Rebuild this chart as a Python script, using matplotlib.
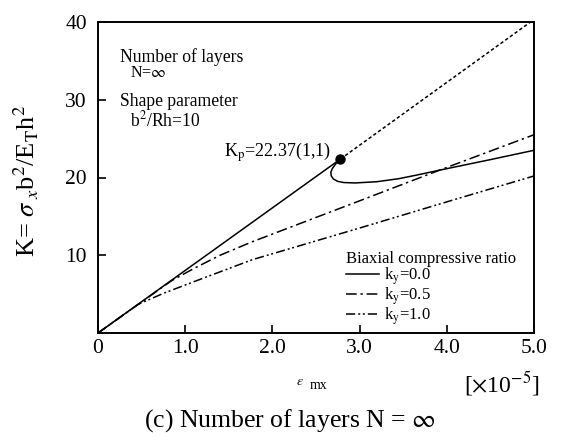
import matplotlib
matplotlib.use("Agg")
import matplotlib.pyplot as plt
from matplotlib.lines import Line2D

plt.rcParams['font.family'] = ['Liberation Serif', 'DejaVu Serif']
plt.rcParams['mathtext.fontset'] = 'stix'

# ---- data (strain x 1e-5, K) ----
# k_y = 0.0 : prebuckling line up to bifurcation point
ky0_pre_x = [0.0, 2.78]
ky0_pre_y = [0.0, 22.37]
# k_y = 0.0 : postbuckling path
ky0_post_x = [2.78, 2.73, 2.69, 2.67, 2.675, 2.70, 2.75, 2.82, 2.95, 3.2, 3.45, 3.65, 3.92, 4.5, 5.0]
ky0_post_y = [22.37, 21.8, 21.2, 20.7, 20.2, 19.8, 19.5, 19.35, 19.3, 19.46, 19.85, 20.3, 20.95, 22.3, 23.5]
# unstable continuation (dotted)
dot_x = [2.78, 4.96]
dot_y = [22.37, 40.0]
# k_y = 0.5
ky05_x = [0.0, 0.84, 1.1, 1.4, 1.77, 3.0, 3.92, 5.0]
ky05_y = [0.0, 6.7, 8.3, 10.0, 11.74, 17.0, 20.96, 25.5]
# k_y = 1.0
ky10_x = [0.0, 0.46, 0.75, 1.1, 1.77, 3.0, 4.04, 5.0]
ky10_y = [0.0, 3.68, 5.1, 6.6, 9.43, 13.5, 17.0, 20.2]
# bifurcation point
kp_x = [2.78]
kp_y = [22.37]

xticks = [0, 1, 2, 3, 4, 5]
xticklabels = ['0', '1.0', '2.0', '3.0', '4.0', '5.0']
yticks = [10, 20, 30, 40]
yticklabels = ['10', '20', '30', '40']

W, H = 563, 441
fig = plt.figure(figsize=(W / 100, H / 100), dpi=100)
ax = fig.add_axes([98 / W, 1 - 333 / H, 436 / W, 311 / H])

lw = 1.1
ls_dd = (0, (7, 2.5, 1.5, 2.5))
ls_ddd = (0, (6, 2, 1.3, 1.7, 1.3, 2))
ax.plot(ky0_pre_x, ky0_pre_y, color='black', lw=lw, solid_capstyle='butt')
ax.plot(ky0_post_x, ky0_post_y, color='black', lw=lw)
ax.plot(dot_x, dot_y, color='black', lw=lw, linestyle=(0, (2.2, 1.6)))
ax.plot(ky05_x, ky05_y, color='black', lw=lw, linestyle=ls_dd)
ax.plot(ky10_x, ky10_y, color='black', lw=lw, linestyle=ls_ddd)
ax.plot(kp_x, kp_y, 'o', color='black', markersize=6.5, zorder=5)

ax.set_xlim(0, 5)
ax.set_ylim(0, 40)
ax.set_xticks(xticks)
ax.set_xticklabels(xticklabels)
ax.set_yticks(yticks)
ax.set_yticklabels(yticklabels)
ax.tick_params(direction='in', length=6, width=1.2, labelsize=15.5, pad=4)
ax.tick_params(axis='y', pad=8)
for s in ax.spines.values():
    s.set_linewidth(1.4)

def ft(x, y, s, **kw):
    fig.text(x / W, 1 - y / H, s, **kw)

ft(120, 62, 'Number of layers', fontsize=12.7, va='baseline')
ft(130, 77, r'N=$\infty$', fontsize=11.5, va='baseline')
ft(120, 106, 'Shape parameter', fontsize=12.7, va='baseline')
ft(130, 126, r'b$^2$/Rh=10', fontsize=12.7, va='baseline')
ft(331, 157, r'K$_\mathrm{p}$=22.37(1,1)', fontsize=13, va='baseline', ha='right')

handles = [Line2D([], [], color='black', lw=lw),
           Line2D([], [], color='black', lw=lw, linestyle=ls_dd),
           Line2D([], [], color='black', lw=lw, linestyle=ls_ddd)]
labels = [r'k$_\mathrm{y}$=0.0', r'k$_\mathrm{y}$=0.5', r'k$_\mathrm{y}$=1.0']
leg = ax.legend(handles, labels, title='Biaxial compressive ratio', loc='upper left',
                bbox_to_anchor=((346 - 98) / 436, (333 - 251) / 311), frameon=False,
                fontsize=12, title_fontsize=12, alignment='left', borderpad=0,
                borderaxespad=0, handlelength=2.0, handletextpad=0.3, labelspacing=-0.1)

ft(26, 181, r'K= $\sigma_{\ x}$b$^2$/E$_\mathrm{T}$h$^2$', fontsize=19, rotation=90,
   ha='center', va='center')
ft(300, 385, r'$\epsilon$', fontsize=10, ha='center', va='baseline')
ft(319, 389, 'mx', fontsize=10, ha='center', va='baseline')
ft(540, 392, r'[$\times$10$^{-5}$]', fontsize=17, ha='right', va='baseline')
ft(290, 427, r'(c) Number of layers N = $\infty$', fontsize=18.5, ha='center', va='baseline')

fig.savefig('out.png', dpi=100)
